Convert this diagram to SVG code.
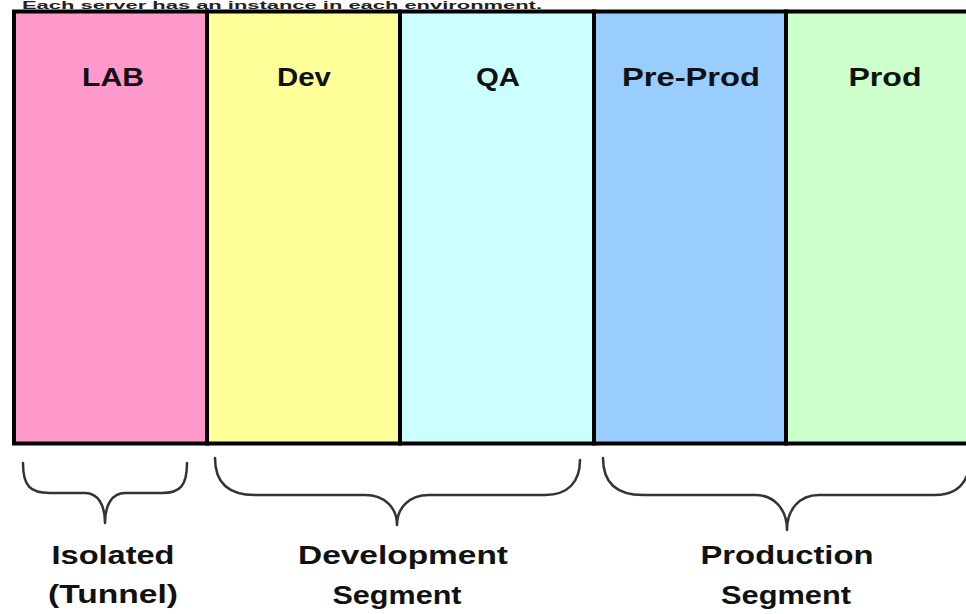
<svg xmlns="http://www.w3.org/2000/svg" width="966" height="614" viewBox="0 0 966 614">
<style>
  .col { stroke: #000; stroke-width: 4; }
  .lbl { font-family: "Liberation Sans", Arial, sans-serif; font-weight: bold; font-size: 26px; fill: #111; text-anchor: middle; }
  .brace { fill: none; stroke: #333; stroke-width: 2.5; stroke-linecap: round; stroke-linejoin: round; }
  .title { font-family: "Liberation Sans", Arial, sans-serif; font-weight: bold; font-size: 10px; fill: #222; }
</style>
<rect width="966" height="614" fill="#fff"/>
<text class="title" x="22" y="8.5" textLength="520" lengthAdjust="spacingAndGlyphs">Each server has an instance in each environment.</text>
<g id="lab">
  <rect class="col" x="14" y="11.5" width="193" height="432" fill="#FF99CC"/>
  <text class="lbl" x="113" y="86" textLength="62" lengthAdjust="spacingAndGlyphs">LAB</text>
</g>
<g id="dev">
  <rect class="col" x="207" y="11.5" width="193" height="432" fill="#FFFF99"/>
  <text class="lbl" x="304" y="86" textLength="54" lengthAdjust="spacingAndGlyphs">Dev</text>
</g>
<g id="qa">
  <rect class="col" x="400" y="11.5" width="194" height="432" fill="#CCFFFF"/>
  <text class="lbl" x="498" y="86" textLength="44" lengthAdjust="spacingAndGlyphs">QA</text>
</g>
<g id="preprod">
  <rect class="col" x="594" y="11.5" width="192" height="432" fill="#99CCFF"/>
  <text class="lbl" x="691" y="86" textLength="138" lengthAdjust="spacingAndGlyphs">Pre-Prod</text>
</g>
<g id="prod">
  <rect class="col" x="786" y="11.5" width="200" height="432" fill="#CCFFCC"/>
  <text class="lbl" x="885" y="86" textLength="73" lengthAdjust="spacingAndGlyphs">Prod</text>
</g>
<g id="braces">
  <path class="brace" d="M23,463 C23,486 30,493 50,493 L85,493 C98,493 105,505 105,523 C105,505 112,493 125,493 L162,493 C180,493 187,486 187,463"/>
  <path class="brace" d="M215,458 C215,482 228,495 255,495 L365,495 C385,495 397,508 397,525 C397,508 409,495 429,495 L545,495 C568,495 580,482 580,460"/>
  <path class="brace" d="M603,458 C603,482 616,495 643,495 L755,495 C775,495 787,510 787,530 C787,510 799,495 819,495 L935,495 C958,495 968,482 970,462"/>
</g>
<g id="segment-labels">
  <text class="lbl" x="113" y="564" textLength="123" lengthAdjust="spacingAndGlyphs">Isolated</text>
  <text class="lbl" x="113" y="603" textLength="130" lengthAdjust="spacingAndGlyphs">(Tunnel)</text>
  <text class="lbl" x="403" y="564" textLength="210" lengthAdjust="spacingAndGlyphs">Development</text>
  <text class="lbl" x="397" y="604" textLength="129" lengthAdjust="spacingAndGlyphs">Segment</text>
  <text class="lbl" x="787" y="564" textLength="173" lengthAdjust="spacingAndGlyphs">Production</text>
  <text class="lbl" x="786" y="604" textLength="130" lengthAdjust="spacingAndGlyphs">Segment</text>
</g>
</svg>
